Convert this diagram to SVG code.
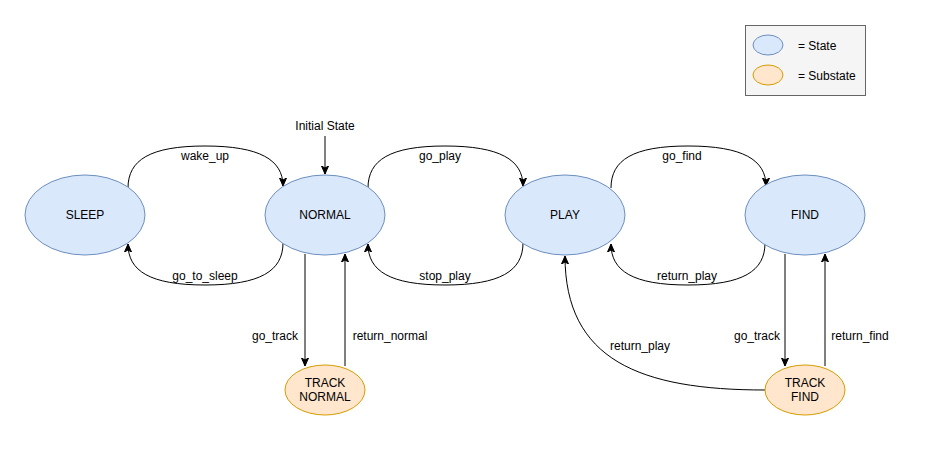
<svg xmlns="http://www.w3.org/2000/svg" width="931" height="452" viewBox="0 0 931 452">
<defs>
<marker id="arr" markerWidth="10" markerHeight="10" refX="8" refY="5" orient="auto" markerUnits="userSpaceOnUse">
<path d="M0,1.5 L8,5 L0,8.5 L2,5 Z" fill="#000" stroke="#000" stroke-width="1"/>
</marker>
</defs>
<style>
.state{fill:#dae8fc;stroke:#6c8ebf;stroke-width:1}
.sub{fill:#ffe6cc;stroke:#d79b00;stroke-width:1}
text{font-family:"Liberation Sans",Arial,sans-serif;font-size:12px;fill:#000}
.c{text-anchor:middle;dominant-baseline:central}
.e{fill:none;stroke:#000;stroke-width:1;marker-end:url(#arr)}
</style>
<rect width="931" height="452" fill="#fff"/>
<g id="legend">
<rect x="745.500" y="25.500" width="120" height="70" fill="#f5f5f5" stroke="#666"/>
<ellipse class="state" cx="768" cy="45" rx="15" ry="10"/>
<ellipse class="sub" cx="768" cy="75" rx="15" ry="10"/>
<text x="798" y="46" dominant-baseline="central">= State</text>
<text x="798" y="76" dominant-baseline="central">= Substate</text>
</g>
<g id="connectors">
<path class="e" d="M325,136 L325,174"/>
<path class="e" d="M128,188 C128,160 150,146 205,146 C260,146 283,160 283,186"/>
<path class="e" d="M283,243 C283,271 260,285 205,285 C150,285 128,271 128,244"/>
<path class="e" d="M368,188 C368,160 390,146 445,146 C500,146 523,160 523,186"/>
<path class="e" d="M523,243 C523,271 500,285 445,285 C390,285 368,271 368,244"/>
<path class="e" d="M611,188 C611,160 633,146 688,146 C743,146 766,160 766,186"/>
<path class="e" d="M765,243 C765,271 743,285 688,285 C633,285 611,271 611,244"/>
<path class="e" d="M305,254 L305,366"/>
<path class="e" d="M345,366 L345,254"/>
<path class="e" d="M785,254 L785,366"/>
<path class="e" d="M825,366 L825,254"/>
<path class="e" d="M765,390 C640,390 565,360 565,256"/>
<text class="c" x="325" y="126">Initial State</text>
<text class="c" x="205" y="156">wake_up</text>
<text class="c" x="205" y="276">go_to_sleep</text>
<text class="c" x="440" y="156">go_play</text>
<text class="c" x="445" y="276">stop_play</text>
<text class="c" x="682" y="156">go_find</text>
<text class="c" x="687" y="276">return_play</text>
<text class="c" x="275" y="336">go_track</text>
<text class="c" x="390" y="336">return_normal</text>
<text class="c" x="757" y="336">go_track</text>
<text class="c" x="860" y="336">return_find</text>
<text class="c" x="640" y="346">return_play</text>
</g>
<g id="sleep"><ellipse class="state" cx="85" cy="215" rx="60" ry="40"/><text class="c" x="85" y="215">SLEEP</text></g>
<g id="normal"><ellipse class="state" cx="325" cy="215" rx="60" ry="40"/><text class="c" x="325" y="215">NORMAL</text></g>
<g id="play"><ellipse class="state" cx="565" cy="215" rx="60" ry="40"/><text class="c" x="565" y="215">PLAY</text></g>
<g id="find"><ellipse class="state" cx="805" cy="215" rx="60" ry="40"/><text class="c" x="805" y="215">FIND</text></g>
<g id="track_normal"><ellipse class="sub" cx="325" cy="390" rx="40" ry="25"/><text class="c" x="325" y="383">TRACK</text><text class="c" x="325" y="397">NORMAL</text></g>
<g id="track_find"><ellipse class="sub" cx="805" cy="390" rx="40" ry="25"/><text class="c" x="805" y="383">TRACK</text><text class="c" x="805" y="397">FIND</text></g>
</svg>
